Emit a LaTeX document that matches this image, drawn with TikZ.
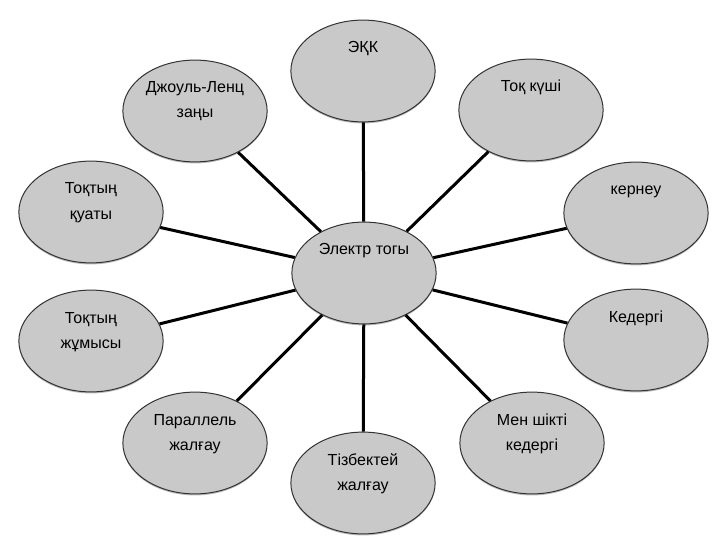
\documentclass[tikz,border=0pt]{standalone}
\usepackage{fontspec}
\setmainfont{Liberation Sans}
\usepackage{tikz}
\usetikzlibrary{shapes.geometric,shadows}
\newcommand{\elltext}[1]{\parbox[c][72pt][t]{102pt}{\centering\vspace*{6pt}\rule{0pt}{12pt}#1}}
\tikzset{
  bubble/.style={ellipse, draw=black!80, line width=1pt, fill=black!21, inner sep=0pt,
    drop shadow={shadow xshift=0pt, shadow yshift=-1.5pt, fill=black!45, opacity=.6},
    font=\fontsize{16}{25}\selectfont},
  link/.style={line width=3pt, black}
}
\begin{document}
\begin{tikzpicture}[x=1pt, y=-1pt]
  \useasboundingbox (0,0) rectangle (720,540);
  \node[bubble] (tok) at (364,273) {\elltext{Электр тогы}};
  \node[bubble] (ekk) at (363,71) {\elltext{ЭҚК}};
  \node[bubble] (joule) at (195,111) {\elltext{Джоуль-Ленц\\заңы}};
  \node[bubble] (current) at (531,110) {\elltext{Тоқ күші}};
  \node[bubble] (power) at (91,212) {\elltext{Тоқтың\\қуаты}};
  \node[bubble] (voltage) at (636,213) {\elltext{кернеу}};
  \node[bubble] (work) at (91,341) {\elltext{Тоқтың\\жұмысы}};
  \node[bubble] (resist) at (636,340) {\elltext{Кедергі}};
  \node[bubble] (parallel) at (195,443) {\elltext{Параллель\\жалғау}};
  \node[bubble] (series) at (363,483) {\elltext{Тізбектей\\жалғау}};
  \node[bubble] (resistivity) at (532,443) {\elltext{Мен шікті\\кедергі}};
  % spokes to the centre
  \foreach \n in {ekk,joule,current,power,voltage,work,resist,parallel,series,resistivity}
    \draw[link] (\n) -- (tok);
\end{tikzpicture}
\end{document}
